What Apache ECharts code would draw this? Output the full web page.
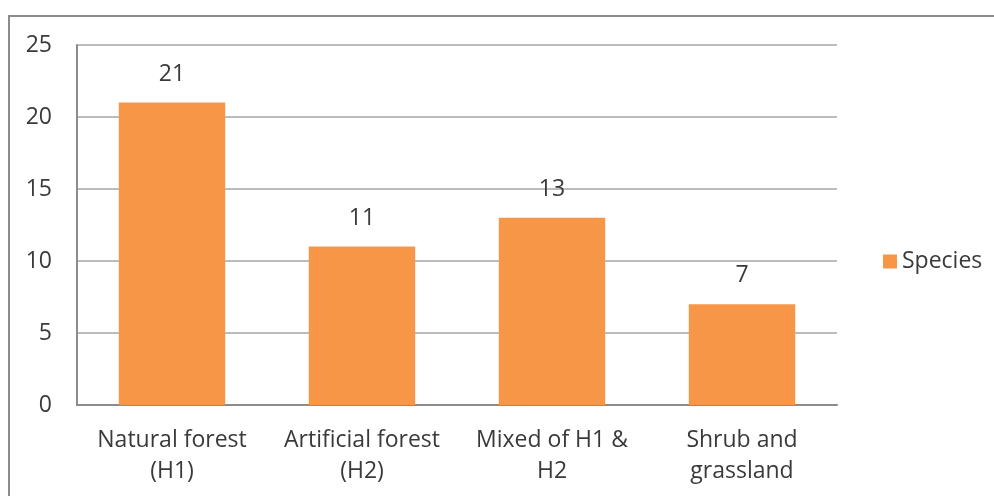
<!DOCTYPE html>
<html>
<head>
<meta charset="utf-8">
<script src="https://cdn.jsdelivr.net/npm/echarts@6/dist/echarts.min.js"></script>
<style>
	html,body{margin:0;padding:0;background:#fff;}
	#frame{position:absolute;left:8px;top:15px;width:1000px;height:500px;border-left:2px solid #8c8c8c;border-top:2px solid #8c8c8c;}
	#chart{position:absolute;left:0;top:0;width:994px;height:496px;}
</style>
</head>
<body>
<div id="frame"></div>
<div id="chart"></div>
<script>
	// habitats and species count
	var categories = ['Natural forest\n(H1)', 'Artificial forest\n(H2)', 'Mixed of H1 &\nH2', 'Shrub and\ngrassland'];
	var speciesValues = [21, 11, 13, 7];
	var seriesName = 'Species';

	var chart = echarts.init(document.getElementById('chart'));
	var option = {
		textStyle: { fontFamily: 'Open Sans' },
		color: ['#f79646'],
		animation: false,
		grid: {
			left: 77,
			top: 45,
			right: 157,
			bottom: 91
		},
		legend: {
			orient: 'vertical',
			left: 878,
			top: 245,
			itemWidth: 14,
			itemHeight: 14,
			itemGap: 7,
			icon: 'rect',
			textStyle: { fontSize: 23, color: '#3a3a3a', fontFamily: 'Open Sans' },
			data: [seriesName]
		},
		xAxis: {
			type: 'category',
			data: categories,
			axisLine: { lineStyle: { color: '#8c8c8c', width: 2 } },
			axisTick: { show: false },
			axisLabel: {
				margin: 20,
				fontSize: 23,
				lineHeight: 31,
				color: '#3a3a3a',
				interval: 0
			}
		},
		yAxis: {
			type: 'value',
			min: 0,
			max: 25,
			interval: 5,
			axisLine: { show: true, lineStyle: { color: '#8c8c8c', width: 2 } },
			axisTick: { show: false },
			axisLabel: { margin: 25, fontSize: 23, color: '#3a3a3a' },
			splitLine: { lineStyle: { color: '#a6a6a6', width: 1.5 } }
		},
		series: [{
			name: seriesName,
			type: 'bar',
			data: speciesValues,
			barWidth: '56%',
			label: {
				show: true,
				position: 'top',
				distance: 17,
				fontSize: 23,
				color: '#3a3a3a'
			}
		}]
	};
	chart.setOption(option);
</script>
</body>
</html>
